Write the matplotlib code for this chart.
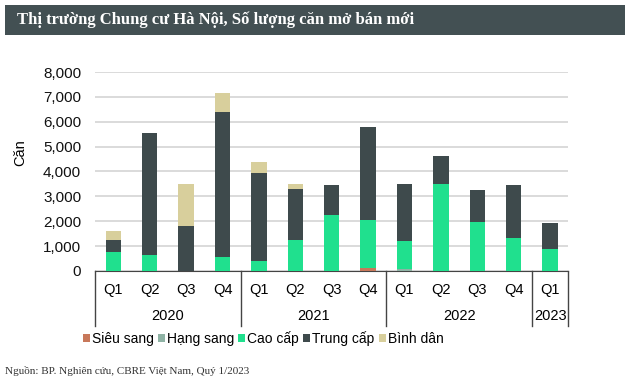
import matplotlib.pyplot as plt
from matplotlib.patches import Rectangle
from matplotlib.ticker import FuncFormatter

quarters = ['Q1', 'Q2', 'Q3', 'Q4', 'Q1', 'Q2', 'Q3', 'Q4', 'Q1', 'Q2', 'Q3', 'Q4', 'Q1']
years = ['2020', '2021', '2022', '2023']
year_sizes = [4, 4, 4, 1]

sieu_sang = [0, 0, 0, 0, 0, 0, 0, 100, 0, 0, 0, 0, 0]
hang_sang = [0, 0, 0, 0, 0, 0, 0, 0, 80, 0, 0, 0, 0]
cao_cap = [750, 640, 0, 560, 420, 1250, 2255, 1950, 1130, 3480, 1960, 1315, 900]
trung_cap = [485, 4900, 1810, 5840, 3510, 2050, 1195, 3750, 2290, 1150, 1315, 2135, 1020]
binh_dan = [385, 0, 1690, 770, 460, 200, 0, 0, 0, 0, 0, 0, 0]

series = [
    ('Siêu sang', sieu_sang, '#c8785a'),
    ('Hạng sang', hang_sang, '#8fb3a5'),
    ('Cao cấp', cao_cap, '#20e08e'),
    ('Trung cấp', trung_cap, '#3e4a4c'),
    ('Bình dân', binh_dan, '#d8cf9c'),
]

plt.rcParams['font.family'] = ['Liberation Sans', 'DejaVu Sans']

fig = plt.figure(figsize=(6.3, 3.79), dpi=100)
ax = fig.add_axes([0.151, 0.285, 0.751, 0.525])

# title bar
fig.patches.append(Rectangle((0.008, 0.908), 0.984, 0.08, transform=fig.transFigure,
                             facecolor='#435053', edgecolor='none'))
fig.text(0.027, 0.948, 'Thị trường Chung cư Hà Nội, Số lượng căn mở bán mới',
         family='Liberation Serif', fontweight='bold', fontsize=12, color='white',
         va='center', ha='left')

x = list(range(len(quarters)))
bottom = [0] * len(quarters)
for name, vals, color in series:
    ax.bar(x, vals, width=0.42, bottom=bottom, color=color, label=name, zorder=3)
    bottom = [b + v for b, v in zip(bottom, vals)]

ax.set_xlim(-0.5, len(quarters) - 0.5)
ax.set_ylim(0, 8000)
ax.set_yticks(range(0, 8001, 1000))
ax.yaxis.set_major_formatter(FuncFormatter(lambda v, p: f'{int(v):,}'))
ax.tick_params(axis='y', length=0, labelsize=11, pad=10, colors='#111111')
ax.set_xticks([])
ax.grid(axis='y', color='#d4d4d4', linewidth=1.2, zorder=0)
for s in ['top', 'right', 'left']:
    ax.spines[s].set_visible(False)
ax.spines['bottom'].set_color('#444444')
ax.set_ylabel('Căn', fontsize=10.5)
ax.yaxis.set_label_coords(-0.143, 0.593)

# category labels
tr = ax.get_xaxis_transform()
for i, q in enumerate(quarters):
    ax.text(i, -0.095, q, transform=tr, ha='center', va='center', fontsize=10.5)
start = -0.5
for yr, n in zip(years, year_sizes):
    ax.plot([start, start], [0, -0.275], transform=tr, color='#444444', lw=1, clip_on=False)
    ax.text(start + n / 2, -0.225, yr, transform=tr, ha='center', va='center', fontsize=10.5)
    start += n
ax.plot([start, start], [0, -0.275], transform=tr, color='#444444', lw=1, clip_on=False)

ax.legend(loc='upper center', bbox_to_anchor=(0.355, -0.275), ncol=5, frameon=False,
          fontsize=10, handlelength=0.5, handleheight=0.5, handletextpad=0.15,
          columnspacing=0.3, borderaxespad=0)

fig.text(0.008, 0.022, 'Nguồn: BP. Nghiên cứu, CBRE Việt Nam, Quý 1/2023',
         family='Liberation Serif', fontsize=8, color='#333333', ha='left', va='center')

fig.savefig('out.png', dpi=100)
